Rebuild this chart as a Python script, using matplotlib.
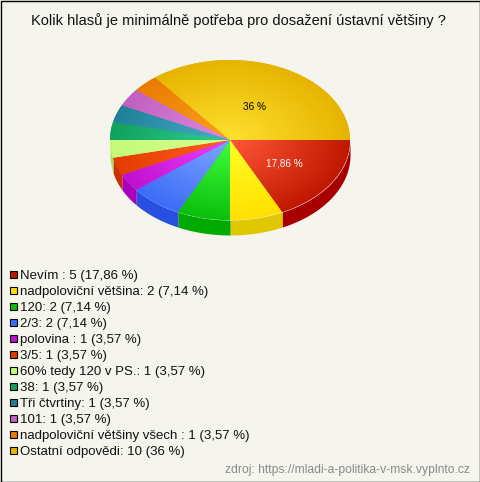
import numpy as np
import matplotlib
matplotlib.use("Agg")
import matplotlib.pyplot as plt
from matplotlib.colors import to_rgb
from matplotlib.patches import Rectangle

plt.rcParams['font.family'] = ['Liberation Sans', 'DejaVu Sans']

title = "Kolik hlasů je minimálně potřeba pro dosažení ústavní většiny ?"
source = "zdroj: https://mladi-a-politika-v-msk.vyplnto.cz"
counts = [5, 2, 2, 2, 1, 1, 1, 1, 1, 1, 1, 10]
legend_labels = [
    "Nevím : 5 (17,86 %)",
    "nadpoloviční většina: 2 (7,14 %)",
    "120: 2 (7,14 %)",
    "2/3: 2 (7,14 %)",
    "polovina : 1 (3,57 %)",
    "3/5: 1 (3,57 %)",
    "60% tedy 120 v PS.: 1 (3,57 %)",
    "38: 1 (3,57 %)",
    "Tři čtvrtiny: 1 (3,57 %)",
    "101: 1 (3,57 %)",
    "nadpoloviční většiny všech : 1 (3,57 %)",
    "Ostatní odpovědi: 10 (36 %)",
]
slice_labels = {0: ("17,86 %", "white", 0.54), 11: ("36 %", "black", 0.47)}

rim_colors = ["#C01800", "#FFE000", "#0CBE0C", "#3C6CF8", "#C010D0", "#E43C00",
              "#C4FA78", "#10A060", "#208098", "#C060C0", "#E87C00", "#E6B400"]
center_colors = ["#FF5838", "#FFFF28", "#40FF40", "#80A8FF", "#F040FF", "#FF6020",
                 "#D8FF90", "#30D090", "#48B0C8", "#E088E0", "#FFA020", "#FFE030"]
wall_colors = ["#A80000", "#E0C800", "#00AA00", "#2850E0", "#AA00BB", "#C83000",
               "#A8E060", "#008040", "#106070", "#A040A0", "#C06000", "#C09000"]

W, H = 480, 482
BG = "#F5F5EE"
CX, CY, RX, RY, DEPTH = 230, 140, 120, 80, 15

fig = plt.figure(figsize=(W / 100, H / 100), dpi=100, facecolor=BG)
ax = fig.add_axes([0, 0, 1, 1])
ax.set_axis_off()

wedges, _ = ax.pie(counts, startangle=0, counterclock=False, radius=1,
                   colors=rim_colors, wedgeprops=dict(linewidth=0))
ax.set_aspect('auto')

# side wall of the pie
fractions = np.array(counts) / sum(counts)
edges = np.concatenate([[0], np.cumsum(fractions)]) * 360
d = DEPTH / RY
for i, (a, b) in enumerate(zip(edges[:-1], edges[1:])):
    if a >= 180:
        break
    th = np.radians(np.linspace(a, min(b, 180), 60))
    ax.fill_between(np.cos(th), -np.sin(th), -np.sin(th) - d,
                    color=wall_colors[i], linewidth=0, zorder=1)

# top surface with a radial gradient
g = np.linspace(-1.02, 1.02, 500)
xx, yy = np.meshgrid(g, g)
r = np.clip(np.hypot(xx, yy), 0, 1)[..., None]
for i, w in enumerate(wedges):
    w.set_zorder(2)
    c0, c1 = np.array(to_rgb(center_colors[i])), np.array(to_rgb(rim_colors[i]))
    img = ax.imshow(c0 * (1 - r) + c1 * r, extent=(-1.02, 1.02, -1.02, 1.02),
                    origin='lower', aspect='auto', zorder=3, interpolation='bilinear')
    img.set_clip_path(w)

# data limits: one unit = RX px across, RY px up
ax.set_xlim(-CX / RX, (W - CX) / RX)
ax.set_ylim((CY - H) / RY, CY / RY)
ax.set_aspect('auto')

mids = (edges[:-1] + edges[1:]) / 2
for i, (txt, col, rad) in slice_labels.items():
    t = np.radians(mids[i])
    ax.text(rad * np.cos(t), -rad * np.sin(t), txt, color=col, fontsize=7.2,
            ha='center', va='center_baseline', zorder=5)


def fx(x):
    return x / W


def fy(y):
    return 1 - y / H


fig.text(fx(238), fy(20.5), title, fontsize=10.5, color="#111111", ha='center', va='center')

for i, lab in enumerate(legend_labels):
    y = 274 + 16 * i
    fig.add_artist(Rectangle((fx(9.5), fy(y + 3.5)), 7 / W, 7 / H, transform=fig.transFigure,
                             facecolor=rim_colors[i], edgecolor='black', linewidth=0.8))
    fig.text(fx(20), fy(y + 1.5), lab, fontsize=9.55, color="#111111", ha='left', va='center')

fig.text(fx(470), fy(469.5), source, fontsize=8.7, color="#8a8a8a", ha='right', va='center')

fig.add_artist(Rectangle((0.5 / W, 0.5 / H), (W - 1) / W, (H - 1) / H, transform=fig.transFigure,
                         facecolor='none', edgecolor='black', linewidth=1))

fig.savefig("out.png", dpi=100, facecolor=BG)
